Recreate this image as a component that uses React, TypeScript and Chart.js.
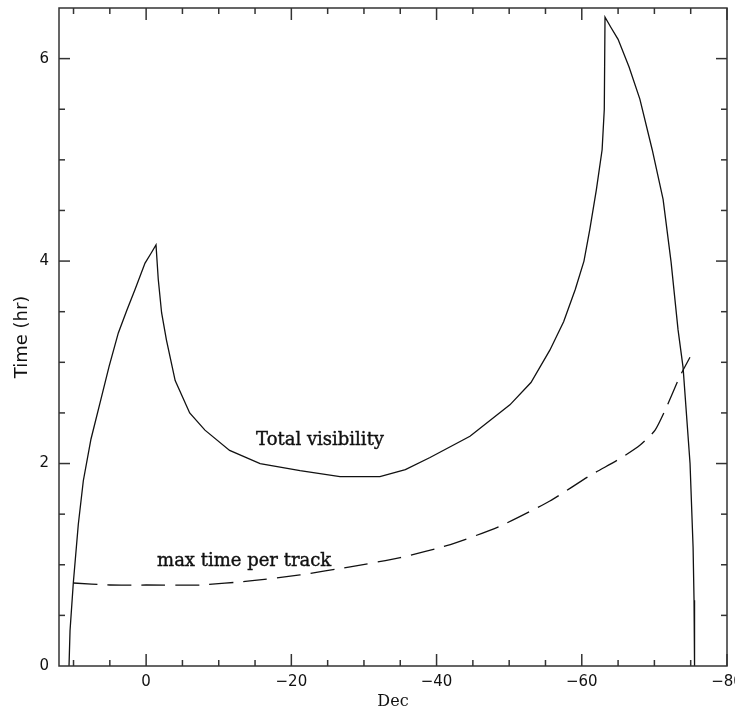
import React, { useEffect, useRef } from "react";
import { Chart, registerables } from "chart.js";

Chart.register(...registerables);

// Total visibility curve (Dec in degrees, time in hours)
const totalDec = [
  10.62, 10.48, 10.03, 9.34, 8.65, 7.6, 6.35, 5.1, 3.83, 2.63, 1.53, 0.15,
  -0.7, -1.36, -1.67, -2.13, -2.8, -4.0, -6.0, -8.1, -11.5, -15.7, -21.2,
  -26.7, -32.2, -35.7, -39.1, -44.6, -50.1, -53.0, -55.6, -57.5, -59.1,
  -60.3, -61.1, -62.0, -62.8, -63.1, -63.2, -64.0, -65.0, -66.5, -68.0,
  -69.7, -71.2, -72.3, -73.26, -73.95, -74.91, -75.33, -75.46, -75.53,
];
const totalTime = [
  0, 0.35, 0.82, 1.4, 1.83, 2.24, 2.6, 2.96, 3.29, 3.52, 3.72, 3.98,
  4.08, 4.16, 3.82, 3.49, 3.22, 2.82, 2.5, 2.33, 2.13, 2.0, 1.93,
  1.87, 1.87, 1.94, 2.06, 2.27, 2.58, 2.8, 3.12, 3.4, 3.72,
  4.0, 4.31, 4.7, 5.1, 5.5, 6.41, 6.31, 6.19, 5.92, 5.6,
  5.1, 4.61, 3.99, 3.32, 2.95, 2.0, 1.17, 0.65, 0,
];

// Max time per track curve
const trackDec = [
  10.03, 5.0, 0.0, -7.4, -14.3, -21.2, -28.1, -35.0, -41.9, -48.7, -55.6,
  -61.1, -65.3, -68.0, -70.1, -71.5, -73.5, -74.9,
];
const trackTime = [
  0.82, 0.8, 0.8, 0.8, 0.84, 0.9, 0.98, 1.07, 1.2, 1.38, 1.63,
  1.88, 2.05, 2.18, 2.33, 2.53, 2.86, 3.05,
];

const xMajorTicks = [0, -20, -40, -60, -80];
const xTickLabels = ["0", "\u221220", "\u221240", "\u221260", "\u221280"];
const yMajorTicks = [0, 2, 4, 6];
const yTickLabels = ["0", "2", "4", "6"];
const xMinorTicks = [10, 5, 0, -5, -10, -15, -20, -25, -30, -35, -40, -45, -50, -55, -60, -65, -70, -75, -80];
const yMinorTicks = [0.5, 1, 1.5, 2, 2.5, 3, 3.5, 4, 4.5, 5, 5.5, 6];

const xTitle = "Dec";
const yTitle = "Time (hr)";
const labelTexts = ["Total visibility", "max time per track"];
const labelDec = [-23.95, -13.5];
const labelTime = [2.18, 0.985];

const framePlugin = {
  id: "frame",
  afterDatasetsDraw(chart: any) {
    const { ctx, chartArea: a, scales } = chart;
    const xs = scales.x;
    const ys = scales.y;
    ctx.save();
    ctx.strokeStyle = "#333";
    ctx.lineWidth = 1.5;
    ctx.strokeRect(a.left, a.top, a.right - a.left, a.bottom - a.top);
    const line = (x1: number, y1: number, x2: number, y2: number) => {
      ctx.beginPath();
      ctx.moveTo(x1, y1);
      ctx.lineTo(x2, y2);
      ctx.stroke();
    };
    xMinorTicks.forEach((v) => {
      const px = xs.getPixelForValue(v);
      const len = xMajorTicks.includes(v) ? 12 : 6;
      line(px, a.bottom, px, a.bottom - len);
      line(px, a.top, px, a.top + len);
    });
    yMinorTicks.forEach((v) => {
      const py = ys.getPixelForValue(v);
      const len = yMajorTicks.includes(v) ? 11 : 6;
      line(a.left, py, a.left + len, py);
      line(a.right, py, a.right - len, py);
    });
    ctx.fillStyle = "#111";
    ctx.strokeStyle = "#111";
    ctx.lineWidth = 0.4;
    ctx.font = "18px 'DejaVu Serif'";
    ctx.textAlign = "center";
    ctx.textBaseline = "alphabetic";
    labelTexts.forEach((t, i) => {
      const px = xs.getPixelForValue(labelDec[i]);
      const py = ys.getPixelForValue(labelTime[i]);
      ctx.fillText(t, px, py);
      ctx.strokeText(t, px, py);
    });
    ctx.restore();
  },
};

export default function App() {
  const ref = useRef<HTMLCanvasElement | null>(null);
  useEffect(() => {
    if (!ref.current) return;
    const chart = new Chart(ref.current, {
      type: "line",
      data: {
        datasets: [
          {
            data: totalDec.map((d, i) => ({ x: d, y: totalTime[i] })),
            borderColor: "#111",
            borderWidth: 1.3,
            pointRadius: 0,
            tension: 0,
            fill: false,
          },
          {
            data: trackDec.map((d, i) => ({ x: d, y: trackTime[i] })),
            borderColor: "#111",
            borderWidth: 1.3,
            borderDash: [24, 10],
            pointRadius: 0,
            tension: 0.2,
            fill: false,
          },
        ],
      },
      options: {
        animation: false,
        responsive: false,
        layout: { padding: { left: 0, top: 8, right: 33, bottom: 0 } },
        plugins: { legend: { display: false }, tooltip: { enabled: false } },
        scales: {
          x: {
            type: "linear",
            min: -80,
            max: 12,
            reverse: true,
            grid: { display: false, drawTicks: false },
            border: { display: false },
            afterBuildTicks: (s: any) => {
              s.ticks = xMajorTicks.map((v) => ({ value: v }));
            },
            afterFit: (s: any) => {
              s.height = 46;
              s.paddingLeft = 0;
              s.paddingRight = 0;
            },
            ticks: {
              autoSkip: false,
              maxRotation: 0,
              padding: 7,
              color: "#111",
              font: { family: "'DejaVu Sans'", size: 15 },
              callback: (v: any) => xTickLabels[xMajorTicks.indexOf(Number(v))] ?? "",
            },
            title: {
              display: true,
              text: xTitle,
              color: "#111",
              font: { family: "'DejaVu Serif'", size: 16 },
              padding: { top: 0, bottom: 1 },
            },
          },
          y: {
            type: "linear",
            min: 0,
            max: 6.5,
            grid: { display: false, drawTicks: false },
            border: { display: false },
            afterBuildTicks: (s: any) => {
              s.ticks = yMajorTicks.map((v) => ({ value: v }));
            },
            afterFit: (s: any) => {
              s.width = 59;
              s.paddingTop = 0;
              s.paddingBottom = 0;
            },
            ticks: {
              autoSkip: false,
              padding: 10,
              color: "#111",
              font: { family: "'DejaVu Sans'", size: 15 },
              callback: (v: any) => yTickLabels[yMajorTicks.indexOf(Number(v))] ?? "",
            },
            title: {
              display: true,
              text: yTitle,
              color: "#111",
              font: { family: "'DejaVu Sans'", size: 18 },
              padding: { top: 12, bottom: 0 },
            },
          },
        },
      },
      plugins: [framePlugin],
    } as any);
    return () => chart.destroy();
  }, []);
  return (
    <div
      style={{
        position: "absolute",
        left: 0,
        top: 0,
        width: 735,
        height: 712,
        overflow: "hidden",
        background: "#fff",
      }}
    >
      <canvas ref={ref} width={760} height={712} style={{ display: "block" }} />
    </div>
  );
}
